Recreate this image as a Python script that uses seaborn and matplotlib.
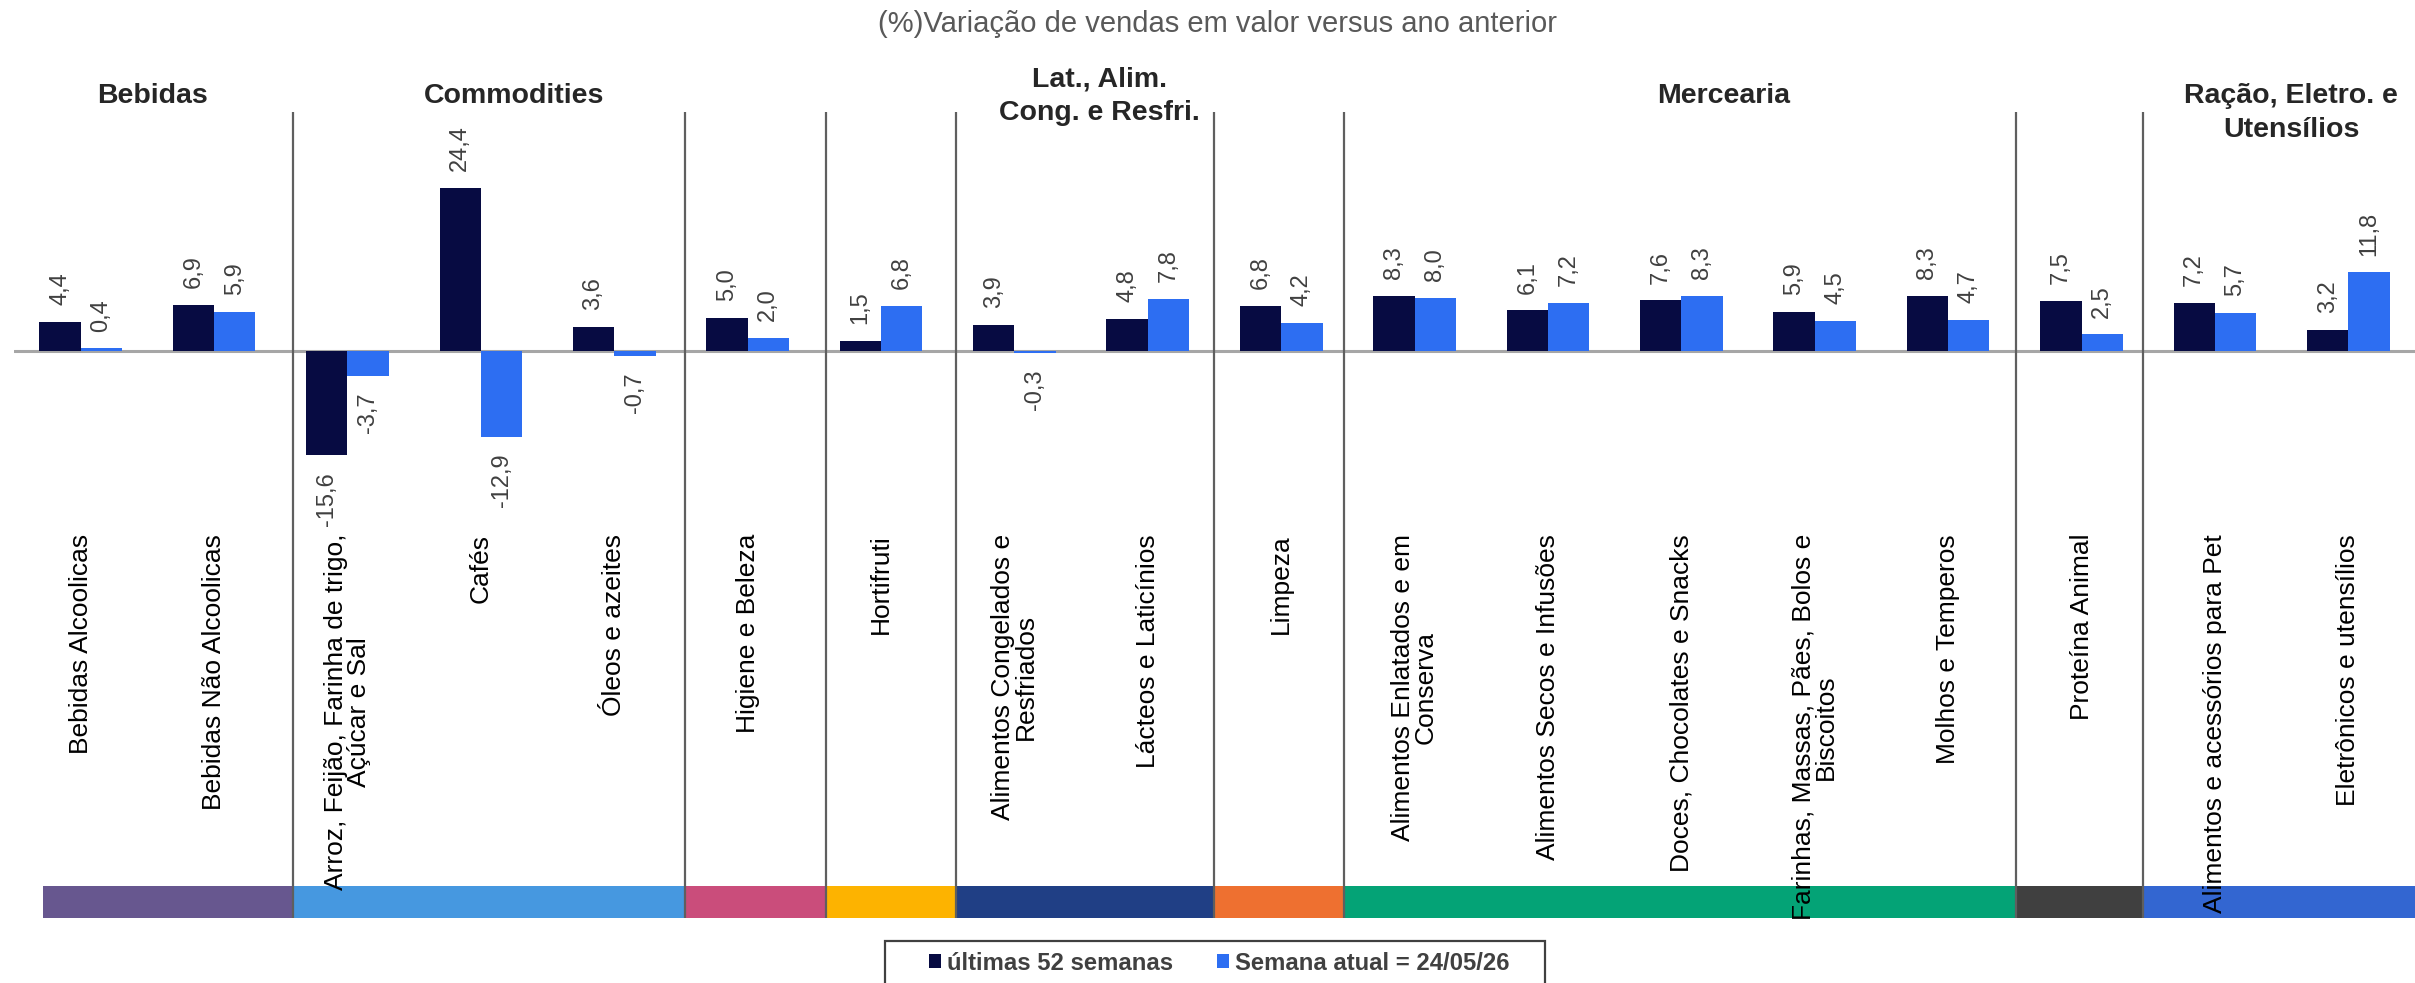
import matplotlib
matplotlib.use("Agg")
import matplotlib.pyplot as plt
import matplotlib.transforms as mtransforms
from matplotlib.patches import Patch, Rectangle
import seaborn as sns
import pandas as pd

# ---------------- data ----------------
categories = [
    "Bebidas Alcoolicas", "Bebidas Não Alcoolicas",
    "Arroz, Feijão, Farinha de trigo,\nAçúcar e Sal", "Cafés", "Óleos e azeites",
    "Higiene e Beleza", "Hortifruti",
    "Alimentos Congelados e\nResfriados", "Lácteos e Laticínios",
    "Limpeza",
    "Alimentos Enlatados e em\nConserva", "Alimentos Secos e Infusões",
    "Doces, Chocolates e Snacks", "Farinhas, Massas, Pães, Bolos e\nBiscoitos",
    "Molhos e Temperos",
    "Proteína Animal",
    "Alimentos e acessórios para Pet", "Eletrônicos e utensílios",
]
ultimas_52 = [4.4, 6.9, -15.6, 24.4, 3.6, 5.0, 1.5, 3.9, 4.8, 6.8,
              8.3, 6.1, 7.6, 5.9, 8.3, 7.5, 7.2, 3.2]
semana_atual = [0.4, 5.9, -3.7, -12.9, -0.7, 2.0, 6.8, -0.3, 7.8, 4.2,
                8.0, 7.2, 8.3, 4.5, 4.7, 2.5, 5.7, 11.8]
series_names = ["últimas 52 semanas", "Semana atual = 24/05/26"]

group_names = ["Bebidas", "Commodities", "", "", "Lat., Alim.\nCong. e Resfri.",
               "", "Mercearia", "", "Ração, Eletro. e\nUtensílios"]
group_sizes = [2, 3, 1, 1, 2, 1, 5, 1, 2]
group_colors = ["#67578F", "#4698E0", "#CA4D7B", "#FDB300", "#203F85",
                "#EE7030", "#04A376", "#404040", "#3366D1"]

title = "(%)Variação de vendas em valor versus ano anterior"

# ---------------- styles ----------------
sns.set_theme(style="white")
plt.rcParams["font.family"] = ["Liberation Sans", "DejaVu Sans"]

C_DARK = "#070B42"
C_BLUE = "#2D6EF2"
header_dx = [0.04, 0.25, 0, 0, 0.135, 0, 0.32, 0, 0.07]   # header text nudges
sep_dx = [0, 0.09, 0.03, 0.09, 0.06, 0.0, -0.03, 0.01, -0.04]  # separator nudges

df = pd.DataFrame({
    "cat": categories * 2,
    "val": ultimas_52 + semana_atual,
    "serie": [series_names[0]] * len(categories) + [series_names[1]] * len(categories),
})

W, H = 2415, 983
fig = plt.figure(figsize=(W / 100, H / 100), dpi=100)
ax_left, ax_right = 14, W
ax_top, ax_bot = 112, 918
ax = fig.add_axes([ax_left / W, (H - ax_bot) / H, (ax_right - ax_left) / W, (ax_bot - ax_top) / H])

sns.barplot(data=df, x="cat", y="val", hue="serie", order=categories,
            hue_order=series_names, palette=[C_DARK, C_BLUE], width=0.62, gap=0,
            linewidth=0, saturation=1, ax=ax, legend=False, zorder=2)

n = len(categories)
ax.set_xlim(-0.5, n - 0.5)
ppu = 6.68
ax.set_ylim(-(ax_bot - 351) / ppu, (351 - ax_top) / ppu)
ax.axis("off")

# value labels
for cont, vals in zip(ax.containers, [ultimas_52, semana_atual]):
    ax.bar_label(cont, labels=[f"{v:.1f}".replace(".", ",") for v in vals],
                 padding=12, rotation=90, fontsize=17, color="#404040")

# zero line
ax.axhline(0, color="#A6A6A6", lw=2.2, zorder=1.5)

# group separators, color band, headers
bl = mtransforms.blended_transform_factory(ax.transData, ax.transAxes)
bf = mtransforms.blended_transform_factory(ax.transData, fig.transFigure)
band_frac = (ax_bot - 886) / (ax_bot - ax_top)
start = 0
bounds = []
for gi, gsize in enumerate(group_sizes):
    bounds.append(start - 0.5 + sep_dx[gi] if gi > 0 else -0.28)
    start += gsize
bounds.append(n - 0.5)

start = 0
for gi, (gname, gsize, gcol) in enumerate(zip(group_names, group_sizes, group_colors)):
    end = start + gsize
    ax.axvspan(bounds[gi], bounds[gi + 1], ymin=0, ymax=band_frac, color=gcol, lw=0, zorder=1)
    if gi > 0:
        ax.axvline(bounds[gi], ymin=0, ymax=1, color="#5F5F5F", lw=1.6, zorder=2.5)
    if gname:
        xc = (start + end - 1) / 2 + header_dx[gi]
        if gname.startswith("Ração"):
            ax.text(xc, 1 - 83 / H, gname, transform=bf, ha="center", va="top",
                    fontsize=20.5, fontweight="bold", color="#262626", linespacing=1.4)
        else:
            ax.text(xc, 1 - 96 / H, gname, transform=bf, ha="center", va="center",
                    fontsize=20.5, fontweight="bold", color="#262626", linespacing=1.35)
    start = end

# category labels
lab_y = (ax_bot - 534) / (ax_bot - ax_top)
for i, c in enumerate(categories):
    ax.text(i, lab_y, c, transform=bl, rotation=90, ha="center", va="top",
            multialignment="center", fontsize=19, color="#000000", linespacing=0.95)

# title
fig.text(0.504, 1 - 24 / H, title, ha="center", va="center", fontsize=21, color="#595959")

# legend (frame drawn separately, box runs off the bottom edge like the original)
fig.patches.append(Rectangle((885 / W, -0.05), (1545 - 885) / W, 0.05 + (H - 941) / H,
                             transform=fig.transFigure, facecolor="white",
                             edgecolor="#404040", lw=1.6, zorder=0))
handles = [Patch(facecolor=C_DARK, edgecolor="none"), Patch(facecolor=C_BLUE, edgecolor="none")]
leg = fig.legend(handles, series_names, loc="center", bbox_to_anchor=(1219 / W, 1 - 963 / H),
                 ncol=2, frameon=False, handlelength=0.5, handleheight=0.55,
                 handletextpad=0.25, columnspacing=1.85, borderpad=0,
                 prop={"weight": "bold", "size": 17.2})
for t in leg.get_texts():
    t.set_color("#404040")

fig.savefig("out.png", dpi=100)
